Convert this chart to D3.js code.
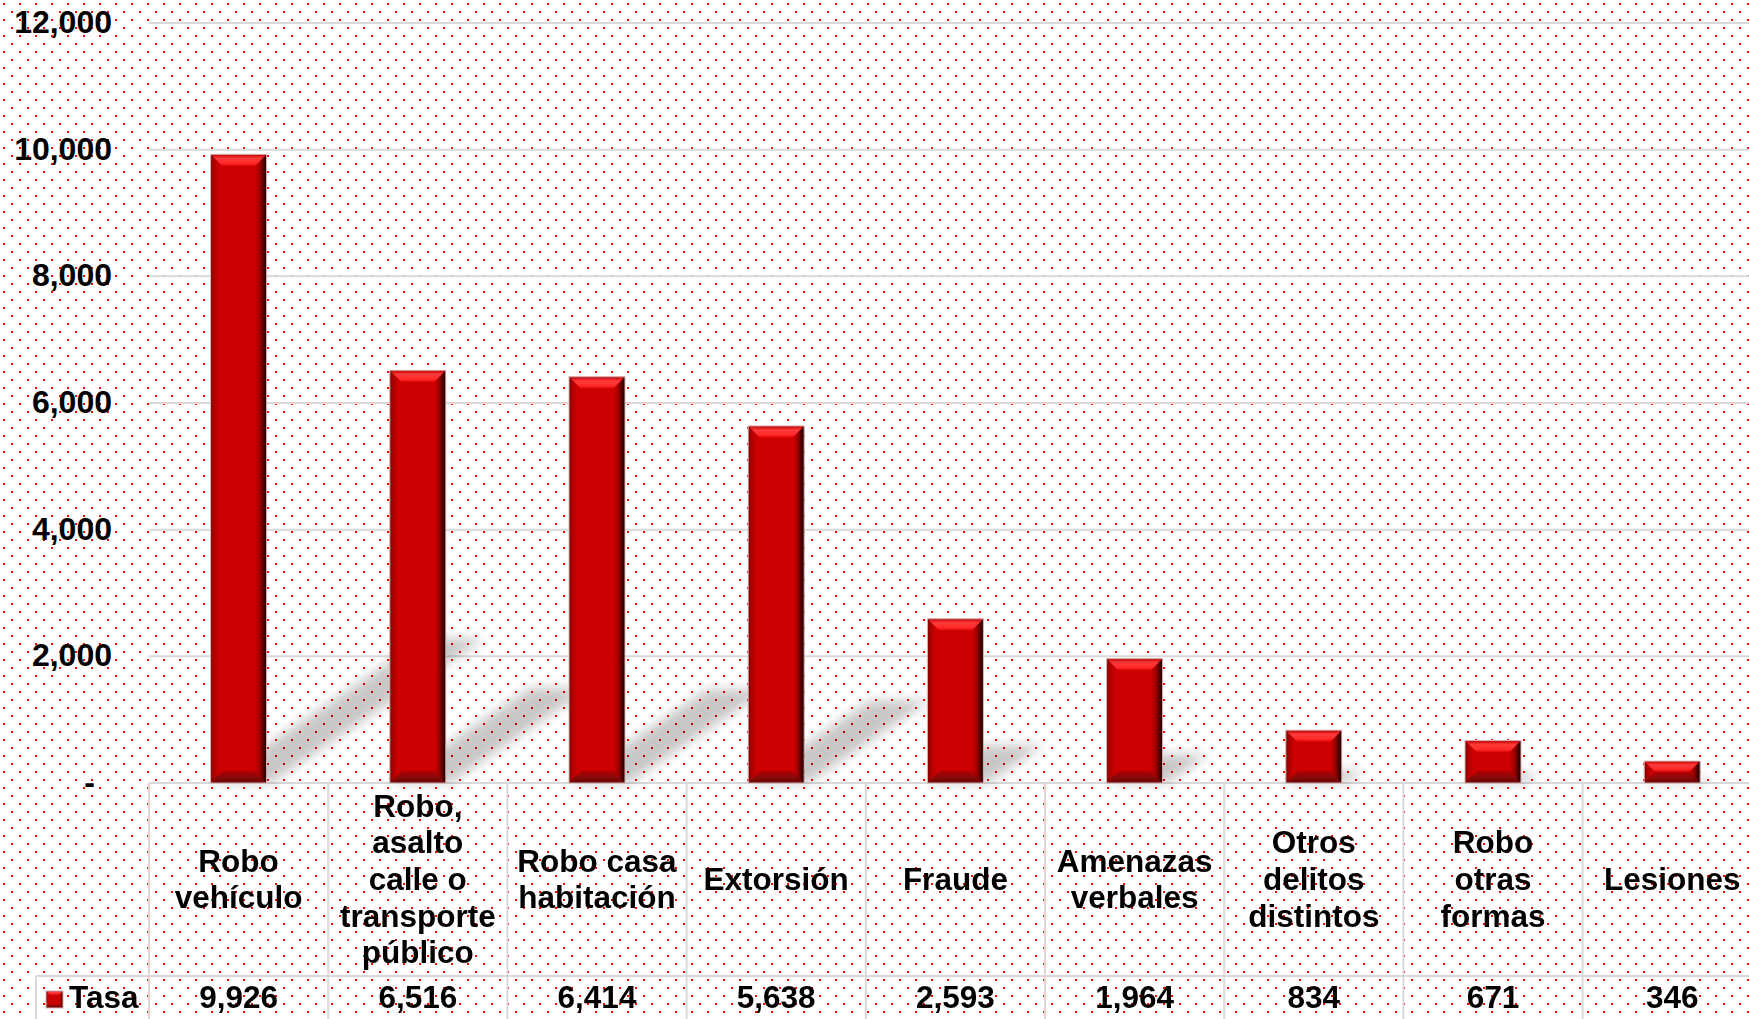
<!DOCTYPE html>
<html>
<head>
<meta charset="utf-8">
<script src="https://cdn.jsdelivr.net/npm/d3@7"></script>
<style>
  html, body { margin: 0; padding: 0; background: #fff; }
  svg { display: block; }
  text { font-family: "Liberation Sans", Arial, sans-serif; font-weight: bold; fill: #000; }
</style>
</head>
<body>
<script>
// ---------- DATA ----------
const categoryLines = [
  ["Robo", "vehículo"],
  ["Robo,", "asalto", "calle o", "transporte", "público"],
  ["Robo casa", "habitación"],
  ["Extorsión"],
  ["Fraude"],
  ["Amenazas", "verbales"],
  ["Otros", "delitos", "distintos"],
  ["Robo", "otras", "formas"],
  ["Lesiones"]
];
const categories = categoryLines.map(l => l.join(" "));
const values = [9926, 6516, 6414, 5638, 2593, 1964, 834, 671, 346];
const valueLabels = ["9,926", "6,516", "6,414", "5,638", "2,593", "1,964", "834", "671", "346"];
const seriesName = "Tasa";
const yTicks = [0, 2000, 4000, 6000, 8000, 10000, 12000];
const yTickLabels = ["-", "2,000", "4,000", "6,000", "8,000", "10,000", "12,000"];

// ---------- LAYOUT ----------
const W = 1749, H = 1019;
const plotLeft = 149, colStep = 179.2;
const baseY = 783, topY = 23;
const rowSplit = 976, legendLeft = 36;

const svg = d3.select("body").append("svg").attr("width", W).attr("height", H);
const defs = svg.append("defs");

// dotted background
const pat = defs.append("pattern").attr("id", "dots")
  .attr("width", 16).attr("height", 16).attr("patternUnits", "userSpaceOnUse");
pat.append("rect").attr("width", 16).attr("height", 16).attr("fill", "#fff");
pat.append("rect").attr("x", 3).attr("y", 3).attr("width", 2).attr("height", 2).attr("fill", "#ff0000");
pat.append("rect").attr("x", 11).attr("y", 11).attr("width", 2).attr("height", 2).attr("fill", "#ff0000");
svg.append("rect").attr("width", W).attr("height", H).attr("fill", "url(#dots)");

// gradients
const gBody = defs.append("linearGradient").attr("id", "barBody").attr("x1", 0).attr("x2", 1).attr("y1", 0).attr("y2", 0);
[[0, "#7a0000"], [0.05, "#a80000"], [0.15, "#cc0000"], [0.8, "#cc0000"], [0.88, "#a00000"], [0.95, "#4a0000"], [1, "#1c0000"]]
  .forEach(([o, c]) => gBody.append("stop").attr("offset", o).attr("stop-color", c));
const gTop = defs.append("linearGradient").attr("id", "barTop").attr("x1", 0).attr("x2", 0).attr("y1", 0).attr("y2", 1);
[[0, "#b80000"], [0.35, "#ff3a3a"], [0.75, "#ff2828"], [1, "#d80000"]]
  .forEach(([o, c]) => gTop.append("stop").attr("offset", o).attr("stop-color", c));
const gBot = defs.append("linearGradient").attr("id", "barBot").attr("x1", 0).attr("x2", 0).attr("y1", 0).attr("y2", 1);
[[0, "#b00000"], [0.5, "#8a0a0a"], [1, "#6a0000"]]
  .forEach(([o, c]) => gBot.append("stop").attr("offset", o).attr("stop-color", c));

const blur = defs.append("filter").attr("id", "blur")
  .attr("x", "-50%").attr("y", "-50%").attr("width", "200%").attr("height", "200%");
blur.append("feGaussianBlur").attr("stdDeviation", 6);

// scales
const x = d3.scaleBand().domain(categories)
  .range([plotLeft, plotLeft + colStep * categories.length])
  .paddingInner(0.6875).paddingOuter(0.34375);
const y = d3.scaleLinear().domain([0, 12000]).range([baseY, topY]);

// gridlines
svg.append("g").selectAll("line").data(yTicks).join("line")
  .attr("x1", plotLeft).attr("x2", W)
  .attr("y1", d => y(d)).attr("y2", d => y(d))
  .attr("stroke", "#d9d9d9").attr("stroke-width", 2);

// y tick labels
svg.append("g").selectAll("text").data(yTicks).join("text")
  .attr("x", d => d === 0 ? 95 : 112)
  .attr("y", d => y(d) + 10)
  .attr("text-anchor", "end")
  .attr("font-size", 32)
  .text((d, i) => yTickLabels[i]);

// data table grid
const tbl = svg.append("g").attr("stroke", "#d9d9d9").attr("stroke-width", 2);
d3.range(categories.length + 1).forEach(i => {
  const xx = x.range()[0] + i * x.step();
  tbl.append("line").attr("x1", xx).attr("x2", xx).attr("y1", baseY).attr("y2", H);
});
tbl.append("line").attr("x1", plotLeft).attr("x2", W).attr("y1", baseY).attr("y2", baseY);
tbl.append("line").attr("x1", legendLeft).attr("x2", W).attr("y1", rowSplit).attr("y2", rowSplit);
tbl.append("line").attr("x1", legendLeft).attr("x2", legendLeft).attr("y1", rowSplit).attr("y2", H);

// shadows
const bw = x.bandwidth();
svg.append("g").attr("filter", "url(#blur)").selectAll("polygon").data(values).join("polygon")
  .attr("points", (d, i) => {
    const x0 = x(categories[i]), x1 = x0 + bw, h = baseY - y(d);
    const dx = 0.34 * h, dy = 0.23 * h;
    return [[x0, baseY], [x1 + 4, baseY], [x1 + 4 + dx, baseY - dy], [x0 + dx, baseY - dy]].join(" ");
  })
  .attr("fill", "#000").attr("opacity", 0.22);

// bars
function bevelBar(g, bx, by, w, h, bSize) {
  const b = Math.min(bSize, h / 2, w / 2);
  g.append("rect").attr("x", bx).attr("y", by).attr("width", w).attr("height", h).attr("fill", "url(#barBody)");
  g.append("polygon").attr("points", [[bx, by], [bx + w, by], [bx + w - b, by + b], [bx + b, by + b]].join(" "))
    .attr("fill", "url(#barTop)");
  g.append("polygon").attr("points", [[bx, by + h], [bx + w, by + h], [bx + w - b, by + h - b], [bx + b, by + h - b]].join(" "))
    .attr("fill", "url(#barBot)");
  g.append("rect").attr("x", bx).attr("y", by).attr("width", w).attr("height", h)
    .attr("fill", "none").attr("stroke", "#d8b4b4").attr("stroke-width", 1);
}
const barsG = svg.append("g");
values.forEach((v, i) => {
  const g = barsG.append("g");
  bevelBar(g, x(categories[i]), y(v), bw, y(0) - y(v), 12);
});

// category labels
const lineH = 36.6;
const rowCenter = (baseY + rowSplit) / 2;
const catG = svg.append("g");
categoryLines.forEach((lines, i) => {
  const cx = x(categories[i]) + bw / 2;
  lines.forEach((t, j) => {
    catG.append("text")
      .attr("x", cx)
      .attr("y", rowCenter + 10.5 + (j - (lines.length - 1) / 2) * lineH)
      .attr("text-anchor", "middle")
      .attr("font-size", 31.5)
      .text(t);
  });
});

// value row
svg.append("g").selectAll("text").data(values).join("text")
  .attr("x", (d, i) => x(categories[i]) + bw / 2)
  .attr("y", 1008)
  .attr("text-anchor", "middle")
  .attr("font-size", 31.5)
  .text((d, i) => valueLabels[i]);

// legend key
const lg = svg.append("g");
bevelBar(lg, 46, 991, 17, 17, 4);
lg.append("text").attr("x", 69).attr("y", 1008).attr("font-size", 31.5).text(seriesName);
</script>
</body>
</html>
